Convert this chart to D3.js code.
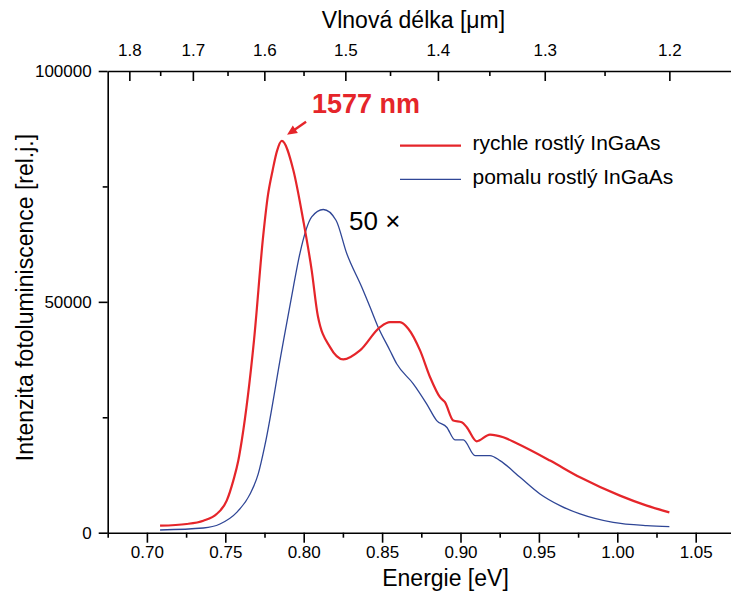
<!DOCTYPE html>
<html>
<head>
<meta charset="utf-8">
<script src="https://cdn.jsdelivr.net/npm/d3@7/dist/d3.min.js"></script>
<style>
  html, body { margin: 0; padding: 0; background: #fff; }
  svg { display: block; }
  text { font-family: "Liberation Sans", Arial, sans-serif; fill: #000; }
</style>
</head>
<body>
<svg id="chart" width="731" height="594"></svg>
<script>
// Photoluminescence spectra of InGaAs layers: energy [eV] vs. intensity [rel. units]
const energyFast = [0.7084, 0.7254, 0.7360, 0.7445, 0.7509, 0.7551, 0.7583, 0.7605, 0.7683, 0.7742,
  0.7772, 0.7802, 0.7829, 0.7860, 0.7934, 0.7997, 0.8051, 0.8090, 0.8168, 0.8253, 0.8359, 0.8487,
  0.8550, 0.8614, 0.8667, 0.8742, 0.8806, 0.8869, 0.8901, 0.8954, 0.9008, 0.9040,
  0.9103, 0.9188, 0.9273, 0.9358, 0.9571, 0.9762, 1.0017, 1.0188, 1.0332];
const intensityFast = [1520, 1890, 2600, 4050, 6940, 11280, 15620, 19960, 41640, 64400,
  73100, 78520, 82600, 84870, 78520, 67680, 56830, 47000, 40190, 37520, 39480, 44530,
  45610, 45610, 44180, 39480, 33680, 29350, 28260, 24290, 23920, 22840,
  19800, 21260, 20670, 19370, 15620, 11990, 8030, 5860, 4400];

// slowly grown layer, scaled 50x
const energySlow = [0.7084, 0.7360, 0.7466, 0.7573, 0.7658, 0.7710, 0.7753, 0.7860, 0.7934, 0.7976,
  0.8051, 0.8125, 0.8206, 0.8274, 0.8370, 0.8423, 0.8470, 0.8550, 0.8593, 0.8699,
  0.8784, 0.8848, 0.8912, 0.8965, 0.9018, 0.9093, 0.9188, 0.9252, 0.9380, 0.9507,
  0.9635, 0.9762, 0.9974, 1.0188, 1.0332];
const intensitySlow = [590, 1020, 1890, 4400, 8390, 12730, 19000, 39480, 53210, 60520,
  68390, 70000, 67680, 60520, 53210, 48870, 44900, 39480, 36590, 32250,
  27910, 24290, 22840, 20110, 20110, 16700, 16700, 15620, 11990, 8390,
  5860, 4060, 2230, 1520, 1300];

const energyTicks = [0.70, 0.75, 0.80, 0.85, 0.90, 0.95, 1.00, 1.05];
const energyMinorTicks = [0.675, 0.725, 0.775, 0.825, 0.875, 0.925, 0.975, 1.025, 1.075];
const wavelengthTicks = [1.8, 1.7, 1.6, 1.5, 1.4, 1.3, 1.2];
const wavelengthMinorTicks = [1.75, 1.65, 1.55, 1.45, 1.35, 1.25];
const intensityTicks = [0, 50000, 100000];
const intensityMinorTicks = [25000, 75000];

const seriesNames = ["rychle rostlý InGaAs", "pomalu rostlý InGaAs"];
const peakLabel = "1577 nm";
const peakWavelengthNm = 1577;
const scaleLabel = "50 ×";

const HC = 1.23984; // eV·µm

const svg = d3.select("#chart");
const x = d3.scaleLinear().domain([0.675, 1.075]).range([107.7, 734.9]);
const y = d3.scaleLinear().domain([0, 100000]).range([532.7, 71]);

const axisColor = "#000";
const red = "#e5252a";
const blue = "#2f4696";

function styleAxis(g) {
  g.select(".domain").attr("stroke", axisColor).attr("stroke-width", 1.6);
  g.selectAll(".tick line").attr("stroke", axisColor).attr("stroke-width", 1.6);
  g.selectAll(".tick text").style("font-size", "17px").attr("fill", "#000");
}

// bottom energy axis
const gx = svg.append("g").attr("transform", `translate(0,${y(0)})`)
  .call(d3.axisBottom(x).tickValues(energyTicks).tickSize(10).tickPadding(3)
    .tickFormat(d3.format(".2f")).tickSizeOuter(0));
styleAxis(gx);
const gxm = svg.append("g").attr("transform", `translate(0,${y(0)})`)
  .call(d3.axisBottom(x).tickValues(energyMinorTicks).tickSize(5).tickFormat("").tickSizeOuter(0));
styleAxis(gxm);
gxm.select(".domain").remove();

// top wavelength axis (nonlinear: E = hc / λ)
const gt = svg.append("g").attr("transform", `translate(0,${y(100000)})`)
  .call(d3.axisTop(x).tickValues(wavelengthTicks.map(l => HC / l)).tickSize(-10).tickPadding(15)
    .tickFormat(e => (HC / e).toFixed(1)).tickSizeOuter(0));
styleAxis(gt);
const gtm = svg.append("g").attr("transform", `translate(0,${y(100000)})`)
  .call(d3.axisTop(x).tickValues(wavelengthMinorTicks.map(l => HC / l)).tickSize(-5).tickFormat("").tickSizeOuter(0));
styleAxis(gtm);
gtm.select(".domain").remove();

// left intensity axis
const gy = svg.append("g").attr("transform", `translate(${x(0.675)},0)`)
  .call(d3.axisLeft(y).tickValues(intensityTicks).tickSize(9).tickPadding(7).tickFormat(d3.format("d")).tickSizeOuter(0));
styleAxis(gy);
gy.selectAll(".tick text").attr("dy", "0.35em");
const gym = svg.append("g").attr("transform", `translate(${x(0.675)},0)`)
  .call(d3.axisLeft(y).tickValues(intensityMinorTicks).tickSize(5).tickFormat("").tickSizeOuter(0));
styleAxis(gym);
gym.select(".domain").remove();

// curves
const line = d3.line().x(d => x(d[0])).y(d => y(d[1])).curve(d3.curveMonotoneX);
const slowData = d3.zip(energySlow, intensitySlow);
const fastData = d3.zip(energyFast, intensityFast);

svg.append("path").datum(slowData).attr("d", line)
  .attr("fill", "none").attr("stroke", blue).attr("stroke-width", 1.3);
svg.append("path").datum(fastData).attr("d", line)
  .attr("fill", "none").attr("stroke", red).attr("stroke-width", 2.2);

// axis titles
svg.append("text").attr("x", 413.5).attr("y", 28).attr("text-anchor", "middle")
  .style("font-size", "23px").text("Vlnová délka [μm]");
svg.append("text").attr("x", 445.5).attr("y", 586).attr("text-anchor", "middle")
  .style("font-size", "23px").text("Energie [eV]");
svg.append("text").attr("transform", "translate(33,297.5) rotate(-90)").attr("text-anchor", "middle")
  .style("font-size", "23px").text("Intenzita fotoluminiscence [rel.j.]");

// legend
const legend = svg.append("g");
[[red, 2.2, 145.7, 149.5], [blue, 1.3, 179.3, 184]].forEach((s, i) => {
  legend.append("line").attr("x1", 400).attr("x2", 461).attr("y1", s[2]).attr("y2", s[2])
    .attr("stroke", s[0]).attr("stroke-width", s[1]);
  legend.append("text").attr("x", 472.5).attr("y", s[3]).style("font-size", "21px").text(seriesNames[i]);
});

// peak annotation
const peakE = HC / (peakWavelengthNm / 1000);
const peakI = d3.max(intensityFast);
const tipX = x(peakE) + 5, tipY = y(peakI) - 6;
const tailX = tipX + 19, tailY = tipY - 13;
svg.append("line").attr("x1", tailX).attr("y1", tailY).attr("x2", tipX + 6).attr("y2", tipY - 4)
  .attr("stroke", red).attr("stroke-width", 2.4);
const ang = Math.atan2(tipY - tailY, tipX - tailX);
const hl = 10, hw = 4.5;
const bx = tipX - hl * Math.cos(ang), by = tipY - hl * Math.sin(ang);
svg.append("path")
  .attr("d", `M${tipX},${tipY}L${bx - hw * Math.sin(ang)},${by + hw * Math.cos(ang)}L${bx + hw * Math.sin(ang)},${by - hw * Math.cos(ang)}Z`)
  .attr("fill", red);
svg.append("text").attr("x", 312).attr("y", 113).style("font-size", "27px").style("font-weight", "bold")
  .attr("fill", red).style("fill", red).text(peakLabel);

svg.append("text").attr("x", 349).attr("y", 230).style("font-size", "26px").text(scaleLabel);
</script>
</body>
</html>
